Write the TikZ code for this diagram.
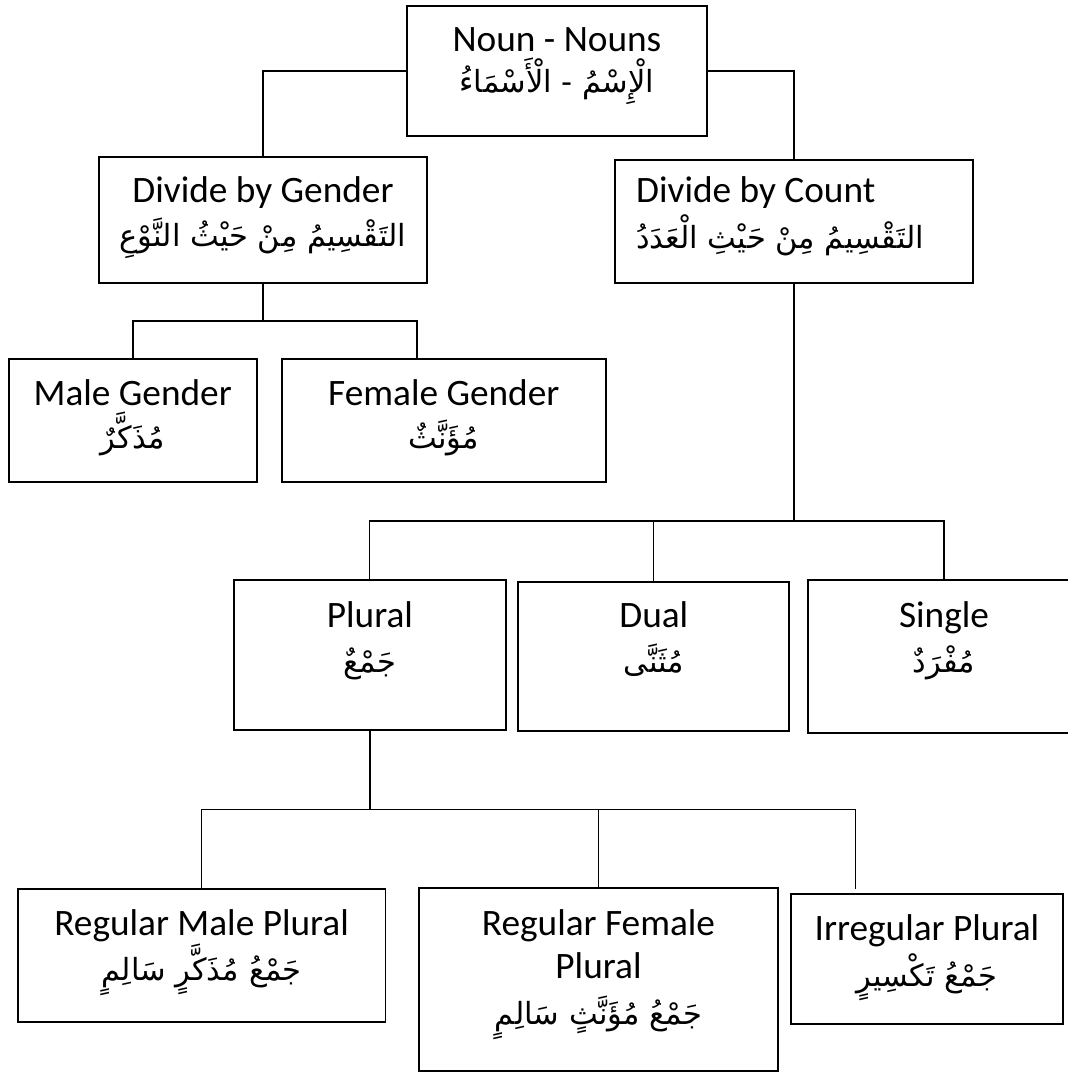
\documentclass[tikz,border=0pt]{standalone}
\usepackage{fontspec}
\setmainfont{Carlito}
\newfontfamily\arabicfont[Script=Arabic]{DejaVu Sans}
\TeXXeTstate=1
\tikzset{
  box/.style={draw, line width=1.8pt, inner sep=0pt, rectangle},
  conn/.style={line width=1.8pt},
  thinconn/.style={line width=1.1pt},
  en/.style={font=\fontsize{37.3}{42}\selectfont, anchor=base, inner sep=0pt},
  ar/.style={font=\arabicfont\fontsize{30.5}{36}\selectfont, anchor=base, inner sep=0pt},
}
\newcommand{\ar}[1]{\beginR #1\endR}
\begin{document}
\begin{tikzpicture}[x=1pt, y=-1pt]
\useasboundingbox (0,0) rectangle (1068,1072);
% boxes
\node[box, minimum width=299.4pt, minimum height=130pt] (root) at (557,70.7) {};
\node[box, minimum width=328.6pt, minimum height=126.6pt] (gender) at (263,220) {};
\node[box, minimum width=358.3pt, minimum height=123.3pt] (count) at (794.2,221.7) {};
\node[box, minimum width=248pt, minimum height=123.6pt] (male) at (132.7,420.5) {};
\node[box, minimum width=324.3pt, minimum height=123.6pt] (female) at (443.8,420.5) {};
\node[box, minimum width=271.7pt, minimum height=150pt] (plural) at (369.9,655) {};
\node[box, minimum width=271pt, minimum height=149.3pt] (dual) at (653.8,656.4) {};
\node[box, minimum width=263pt, minimum height=152.7pt] (single) at (939.5,656.4) {};
\node[box, minimum width=367.9pt, minimum height=133pt] (rmp) at (201.6,955.8) {};
\node[box, minimum width=359pt, minimum height=183.3pt] (rfp) at (598.5,979.3) {};
\node[box, minimum width=271.7pt, minimum height=130.3pt] (irr) at (926.9,959.2) {};
% texts
\node[en] (rootE) at (557,51.7) {Noun - Nouns};
\node[ar] (rootA) at (557,92) {\ar{الْإِسْمُ - الْأَسْمَاءُ}};
\node[en] (genderE) at (263,202.7) {Divide by Gender};
\node[ar] (genderA) at (263,246) {\ar{التَقْسِيمُ مِنْ حَيْثُ النَّوْعِ}};
\node[en, anchor=base west] (countE) at (636,202.7) {Divide by Count};
\node[ar, anchor=base west] (countA) at (636,248) {\ar{التَقْسِيمُ مِنْ حَيْثِ الْعَدَدُ}};
\node[en] (maleE) at (132.7,405) {Male Gender};
\node[ar] (maleA) at (132.7,448) {\ar{مُذَكَّرٌ}};
\node[en] (femaleE) at (443.8,405) {Female Gender};
\node[ar] (femaleA) at (443.8,448) {\ar{مُؤَنَّثٌ}};
\node[en] (pluralE) at (369.9,627) {Plural};
\node[ar] (pluralA) at (369.9,672) {\ar{جَمْعٌ}};
\node[en] (dualE) at (653.8,627) {Dual};
\node[ar] (dualA) at (653.8,672) {\ar{مُثَنَّى}};
\node[en] (singleE) at (944,627) {Single};
\node[ar] (singleA) at (944,672) {\ar{مُفْرَدٌ}};
\node[en] (rmpE) at (201.6,935) {Regular Male Plural};
\node[ar] (rmpA) at (201.6,980) {\ar{جَمْعُ مُذَكَّرٍ سَالِمٍ}};
\node[en] (rfpE) at (598.5,935) {Regular Female};
\node[en] (rfpE2) at (598.5,978.3) {Plural};
\node[ar] (rfpA) at (598.5,1024) {\ar{جَمْعُ مُؤَنَّثٍ سَالِمٍ}};
\node[en] (irrE) at (926.9,940) {Irregular Plural};
\node[ar] (irrA) at (926.9,986) {\ar{جَمْعُ تَكْسِيرٍ}};
% connectors
\draw[conn] (root.west) -| (gender.north);
\draw[conn] (root.east) -| (count.north);
\coordinate (gj) at (263,320.7);
\coordinate (fj) at (417.3,358.7);
\draw[conn] (gender.south) -- (gj);
\draw[conn] (male.north) |- (gj) -| (fj);
\coordinate (cj) at (794.2,521);
\coordinate (sj) at (944,580);
\draw[conn] (count.south) -- (cj);
\draw[thinconn] (plural.north) |- (cj) -| (sj);
\draw[thinconn] (dual.north) -- (dual.north |- cj);
\coordinate (pj) at (369.9,809.5);
\coordinate (ij) at (855.6,889);
\draw[conn] (plural.south) -- (pj);
\draw[thinconn] (rmp.north) |- (pj) -| (rfp.north);
\draw[thinconn] (rfp.north |- pj) -| (ij);
\end{tikzpicture}
\end{document}
